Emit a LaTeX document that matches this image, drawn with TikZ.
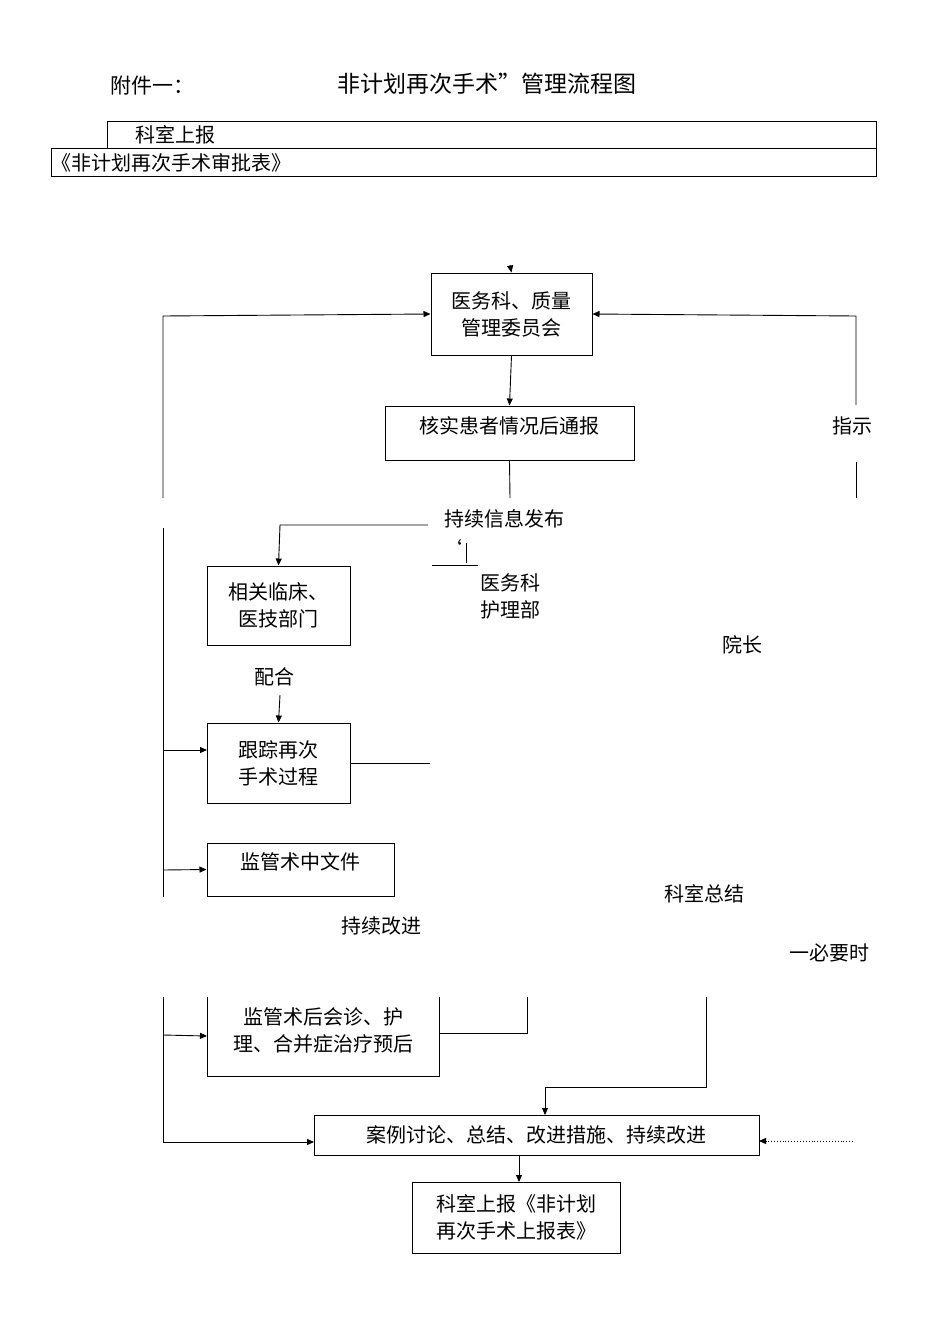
\documentclass[tikz,border=0pt]{standalone}
\usepackage{fontspec}
\setmainfont{Noto Sans CJK SC}
\usetikzlibrary{arrows.meta}
\begin{document}
\begin{tikzpicture}[x=1pt,y=-1pt,
  bx/.style={draw,line width=1pt,inner sep=0pt},
  tx/.style={font=\fontsize{20}{27}\selectfont,align=center,inner sep=0pt},
  ln/.style={line width=0.9pt},
  ar/.style={ln,-{Triangle[length=7pt,width=6pt]}}]
\useasboundingbox (0,0) rectangle (950,1344);
\node[tx,font=\fontsize{21}{26}\selectfont] (t1) at (152,86) {附件一：};
\node[tx,font=\fontsize{23}{26}\selectfont] (t2) at (487,84) {非计划再次手术”管理流程图};
\draw[ln] (107,121) rectangle (876,148);
\draw[ln] (51,148) rectangle (876,176);
\node[tx,anchor=west] (r1) at (135,135) {科室上报};
\node[tx,anchor=west] (r2) at (51,163) {《非计划再次手术审批表》};
% A
\node[bx,minimum width=161pt,minimum height=82pt] (A) at (511.5,314) {};
\node[tx] at (A) {医务科、质量\\管理委员会};
\coordinate (a0) at (510,265);
\draw[ar] (a0) -- (A.north);
\coordinate (L1) at (163,498); \coordinate (L1t) at (163,316);
\draw[ar] (L1) -- (L1t) -- (A.west);
\coordinate (R1) at (856,405); \coordinate (R1t) at (856,316);
\draw[ar] (R1) -- (R1t) -- (A.east);
\coordinate (R2a) at (856,462); \coordinate (R2b) at (856,498);
\draw[ln] (R2a) -- (R2b);
\node[tx] (zs) at (852,426) {指示};
% B
\node[bx,minimum width=249pt,minimum height=54pt] (B) at (509.5,433) {};
\node[tx] at (509.5,426) {核实患者情况后通报};
\draw[ar] (A.south) -- (B.north);
\coordinate (b1) at (510,498);
\draw[ln] (B.south) -- (b1);
\node[tx] (xx) at (504,519) {持续信息发布};
% C
\node[bx,minimum width=143pt,minimum height=79pt] (C) at (278.5,605.5) {};
\node[tx] at (C) {相关临床、\\医技部门};
\coordinate (c1) at (428,525); \coordinate (c2) at (280,525);
\draw[ar] (c1) -- (c2) -- (C.north);
\node[tx] (q) at (452,548) {‘};
\draw[ln] (466,543) -- (466,563);
\draw[ln] (432,565) -- (478,565);
\node[tx,align=left] (yw) at (510,596) {医务科\\护理部};
\node[tx] (peihe) at (274,677) {配合};
\node[tx] (yz) at (742,645) {院长};
% D
\node[bx,minimum width=143pt,minimum height=80pt] (D) at (278.5,763) {};
\node[tx] at (D) {跟踪再次\\手术过程};
\coordinate (d0) at (280,695);
\draw[ar] (d0) -- (D.north);
\coordinate (d1) at (430,763);
\draw[ln] (D.east) -- (d1);
\coordinate (L2) at (163,528); \coordinate (L2b) at (163,897);
\draw[ln] (L2) -- (L2b);
\coordinate (ld) at (163,750);
\draw[ar] (ld) -- (207,750);
% E
\node[bx,minimum width=187pt,minimum height=53pt] (E) at (300.5,869.5) {};
\node[tx] at (300.5,862) {监管术中文件};
\coordinate (le) at (163,870);
\draw[ar] (le) -- (E.west);
\node[tx] (kz) at (704,894) {科室总结};
\node[tx] (cx) at (381,926) {持续改进};
\node[tx] (by) at (829,953) {一必要时};
% F
\draw[ln] (207,997) -- (207,1076) -- (439,1076) -- (439,997);
\node[tx] (F) at (323,1030) {监管术后会诊、护\\理、合并症治疗预后};
\coordinate (lf) at (163,1035);
\draw[ar] (lf) -- (207,1036);
\coordinate (f1) at (527,1033); \coordinate (f2) at (527,997);
\draw[ln] (439,1033) -- (f1) -- (f2);
% G
\node[bx,minimum width=445pt,minimum height=40pt] (G) at (536.5,1135) {};
\node[tx] at (G) {案例讨论、总结、改进措施、持续改进};
\coordinate (g1) at (706,997); \coordinate (g2) at (706,1087); \coordinate (g3) at (545,1087);
\draw[ar] (g1) -- (g2) -- (g3) -- (545,1115);
\coordinate (L3) at (163,997); \coordinate (L3b) at (163,1142);
\draw[ar] (L3) -- (L3b) -- (314,1142);
\coordinate (gd) at (853,1141);
\draw[ln,dotted,-{Triangle[length=7pt,width=6pt]}] (gd) -- (759,1141);
% H
\node[bx,minimum width=208pt,minimum height=71pt] (H) at (516,1217.5) {};
\node[tx] at (H) {科室上报《非计划\\再次手术上报表》};
\draw[ar] (519,1155) -- (519,1182);
\end{tikzpicture}
\end{document}
